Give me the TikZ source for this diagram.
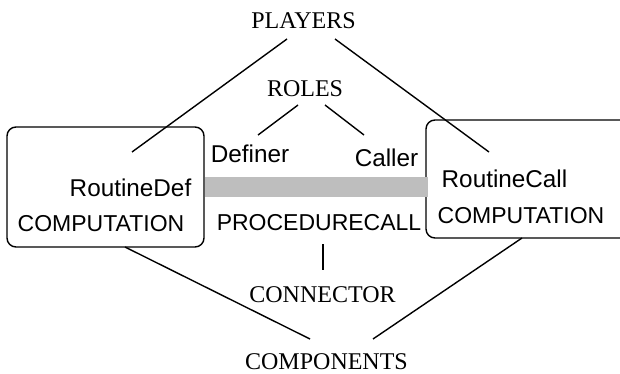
\documentclass[tikz,border=0pt]{standalone}
\usepackage{fontspec}
\setmainfont{Liberation Serif}
\newfontfamily\arialfont{Liberation Sans}
\begin{document}
\begin{tikzpicture}[x=1pt,y=-1pt,
  serif/.style={inner sep=0pt,anchor=base,font=\fontsize{24}{28}\selectfont},
  sanslow/.style={inner sep=0pt,anchor=base,font=\arialfont\fontsize{24.3}{28}\selectfont},
  sanscap/.style={inner sep=0pt,anchor=base,font=\arialfont\fontsize{23}{28}\selectfont},
  edge/.style={line width=1.4pt,black},
  compbox/.style={line width=1.4pt,rounded corners=9pt},
  bar/.style={fill={rgb,255:red,190;green,190;blue,190},draw=none}]
\useasboundingbox (0,0) rectangle (620,374);
\begin{scope}
\clip (0,0) rectangle (620,374);
% boxes
\draw[compbox] (7,127) rectangle (204,247);
\draw[compbox] (426,120) rectangle (640,238);
\fill[bar] (205,177) rectangle (428,197);
\end{scope}
% texts
\node[serif] (players) at (303.5,29) {PLAYERS};
\node[serif] (roles) at (305,97) {ROLES};
\node[serif] (connector) at (322.5,302) {CONNECTOR};
\node[serif] (components) at (326.5,369) {COMPONENTS};
\node[sanslow] (rdef) at (130.5,196.5) {RoutineDef};
\node[sanscap] (compL) at (101,231) {COMPUTATION};
\node[sanslow] (rcall) at (504.5,187) {RoutineCall};
\node[sanscap] (compR) at (521,223) {COMPUTATION};
\node[sanslow] (definer) at (250,163) {Definer};
\node[sanslow] (caller) at (386.5,167) {Caller};
\node[sanscap] (pcall) at (319,230) {PROCEDURECALL};
% endpoints
\coordinate (p1) at (287,39);
\coordinate (p2) at (335,39);
\coordinate (a1) at (132,152);
\coordinate (a2) at (489,152);
\coordinate (r1) at (298,105);
\coordinate (r2) at (325,105);
\coordinate (d1) at (258,135);
\coordinate (c1) at (364,135);
\coordinate (v1) at (323,244);
\coordinate (v2) at (323,270);
\coordinate (b1) at (125,247);
\coordinate (b2) at (310,339);
\coordinate (b3) at (522,238);
\coordinate (b4) at (373,339);
% connectors
\draw[edge] (p1) -- (a1);
\draw[edge] (p2) -- (a2);
\draw[edge] (r1) -- (d1);
\draw[edge] (r2) -- (c1);
\draw[edge] (v1) -- (v2);
\draw[edge] (b1) -- (b2);
\draw[edge] (b3) -- (b4);
\end{tikzpicture}
\end{document}
